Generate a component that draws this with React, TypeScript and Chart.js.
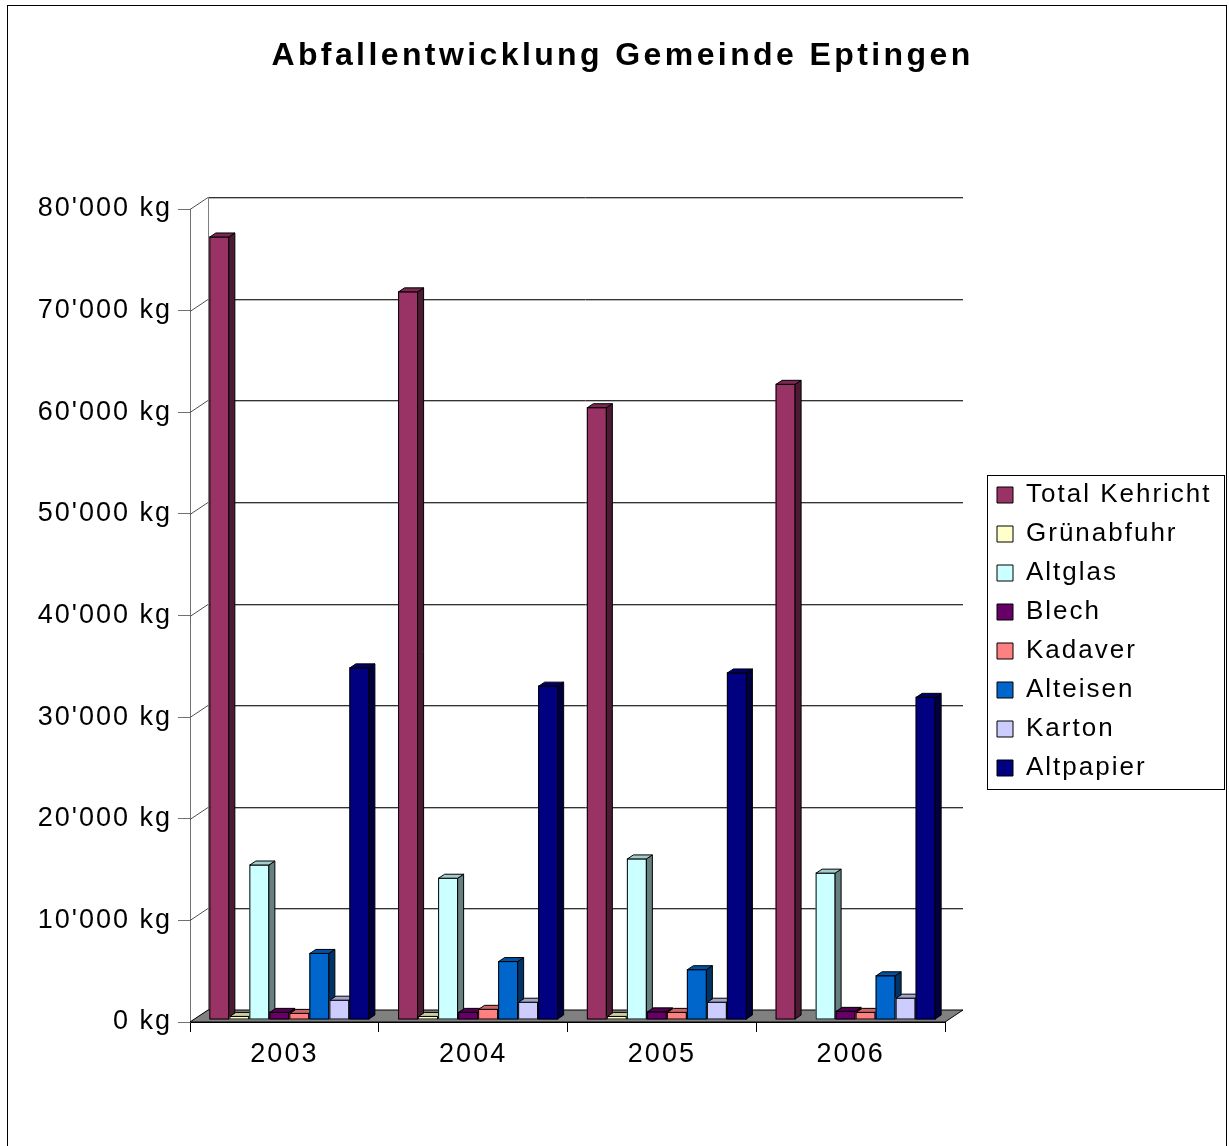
import React, { useEffect, useRef } from 'react';
import { Chart, registerables } from 'chart.js';

Chart.register(...registerables);

const chartTitle = 'Abfallentwicklung Gemeinde Eptingen';
const years = ['2003', '2004', '2005', '2006'];
const seriesNames = ['Total Kehricht', 'Grünabfuhr', 'Altglas', 'Blech', 'Kadaver', 'Alteisen', 'Karton', 'Altpapier'];
const seriesColors = ['#993366', '#FFFFCC', '#CCFFFF', '#660066', '#FF8080', '#0066CC', '#CCCCFF', '#000080'];

const totalKehricht = [77100, 71700, 60300, 62600];
const gruenabfuhr = [400, 400, 400, 0];
const altglas = [15300, 14000, 15900, 14500];
const blech = [800, 800, 850, 900];
const kadaver = [700, 1100, 800, 800];
const alteisen = [6600, 5800, 5000, 4400];
const karton = [2000, 1800, 1800, 2200];
const altpapier = [34700, 32900, 34200, 31800];

const seriesValues = [totalKehricht, gruenabfuhr, altglas, blech, kadaver, alteisen, karton, altpapier];

const yTickLabels = ['0 kg', "10'000 kg", "20'000 kg", "30'000 kg", "40'000 kg", "50'000 kg", "60'000 kg", "70'000 kg", "80'000 kg"];

const FONT = "'Liberation Sans', Arial, sans-serif";
const WALL_DX = 18;
const WALL_DY = 12;
const BAR_DX = 6;
const BAR_DY = 4;
// bars stand a little way into the depth of the 3D floor
const BAR_DEPTH_X = 5;
const BAR_DEPTH_Y = -2;

function shade(hex: string, f: number): string {
  const n = parseInt(hex.slice(1), 16);
  const r = (n >> 16) & 255;
  const g = (n >> 8) & 255;
  const b = n & 255;
  return `rgb(${Math.round(r * f)},${Math.round(g * f)},${Math.round(b * f)})`;
}

const excelPlugin = {
  id: 'excel3d',
  afterInit(chart: any) {
    const tb = chart.titleBlock;
    if (tb && !tb.__patched) {
      const orig = tb.draw;
      tb.draw = function (...args: any[]) {
        const ctx = chart.ctx as any;
        const prev = ctx.letterSpacing;
        ctx.letterSpacing = '3.4px';
        orig.apply(this, args);
        ctx.letterSpacing = prev;
      };
      tb.__patched = true;
    }
  },
  beforeUpdate(chart: any) {
    (chart.ctx as any).letterSpacing = '2px';
  },
  afterLayout(chart: any) {
    const lg = chart.legend;
    if (!lg) return;
    const ca = chart.chartArea;
    const w = lg.width;
    const h = lg.height;
    lg.left = ca.right + 39;
    lg.top = ca.top + 260;
    lg.right = lg.left + w + 20;
    lg.bottom = lg.top + h;
  },
  beforeDraw(chart: any) {
    (chart.ctx as any).letterSpacing = '2px';
  },
  beforeDatasetsDraw(chart: any) {
    const { ctx, chartArea: ca, scales } = chart;
    const ys = scales.y;
    ctx.save();
    ctx.lineWidth = 1;
    ys.ticks.forEach((t: any) => {
      const py = Math.round(ys.getPixelForValue(t.value)) + 0.5;
      ctx.strokeStyle = '#505050';
      ctx.beginPath();
      ctx.moveTo(ca.left, py);
      ctx.lineTo(ca.left + WALL_DX, py - WALL_DY);
      ctx.stroke();
      if (t.value !== 0) {
        ctx.strokeStyle = '#b8b8b8';
        ctx.beginPath();
        ctx.moveTo(ca.left + WALL_DX, py - WALL_DY + 1);
        ctx.lineTo(ca.right + WALL_DX, py - WALL_DY + 1);
        ctx.stroke();
        ctx.strokeStyle = '#333333';
        ctx.beginPath();
        ctx.moveTo(ca.left + WALL_DX, py - WALL_DY);
        ctx.lineTo(ca.right + WALL_DX, py - WALL_DY);
        ctx.stroke();
      }
    });
    ctx.strokeStyle = '#808080';
    ctx.beginPath();
    ctx.moveTo(Math.round(ca.left + WALL_DX) + 0.5, ca.top - WALL_DY);
    ctx.lineTo(Math.round(ca.left + WALL_DX) + 0.5, ca.bottom - WALL_DY);
    ctx.stroke();
    // floor
    ctx.fillStyle = '#808080';
    ctx.strokeStyle = '#000000';
    ctx.beginPath();
    ctx.moveTo(ca.left, ca.bottom);
    ctx.lineTo(ca.right, ca.bottom);
    ctx.lineTo(ca.right + WALL_DX, ca.bottom - WALL_DY);
    ctx.lineTo(ca.left + WALL_DX, ca.bottom - WALL_DY);
    ctx.closePath();
    ctx.fill();
    ctx.stroke();
    ctx.restore();
  },
  beforeDatasetDraw() {
    // bars are painted as 3D columns in afterDatasetsDraw
    return false;
  },
  afterDatasetsDraw(chart: any) {
    const { ctx } = chart;
    ctx.save();
    ctx.lineWidth = 1;
    ctx.strokeStyle = '#000000';
    ctx.lineJoin = 'miter';
    const nCat = chart.data.labels.length;
    const nSet = chart.data.datasets.length;
    for (let j = 0; j < nCat; j++) {
      for (let i = 0; i < nSet; i++) {
        const meta = chart.getDatasetMeta(i);
        const el: any = meta.data[j];
        if (!el) continue;
        const color = seriesColors[i];
        const L = el.x - el.width / 2 + BAR_DEPTH_X;
        const R = el.x + el.width / 2 + BAR_DEPTH_X;
        const T = Math.min(el.y, el.base) + BAR_DEPTH_Y;
        const B = Math.max(el.y, el.base) + BAR_DEPTH_Y;
        if (B - T < 0.5) continue;
        // front
        ctx.fillStyle = color;
        ctx.fillRect(L, T, R - L, B - T);
        ctx.strokeRect(L + 0.5, T + 0.5, R - L - 1, B - T - 1);
        // side
        ctx.fillStyle = shade(color, 0.5);
        ctx.beginPath();
        ctx.moveTo(R - 0.5, T + 0.5);
        ctx.lineTo(R - 0.5 + BAR_DX, T + 0.5 - BAR_DY);
        ctx.lineTo(R - 0.5 + BAR_DX, B - 0.5 - BAR_DY);
        ctx.lineTo(R - 0.5, B - 0.5);
        ctx.closePath();
        ctx.fill();
        ctx.stroke();
        // top
        ctx.fillStyle = shade(color, 0.8);
        ctx.beginPath();
        ctx.moveTo(L + 0.5, T + 0.5);
        ctx.lineTo(L + 0.5 + BAR_DX, T + 0.5 - BAR_DY);
        ctx.lineTo(R - 0.5 + BAR_DX, T + 0.5 - BAR_DY);
        ctx.lineTo(R - 0.5, T + 0.5);
        ctx.closePath();
        ctx.fill();
        ctx.stroke();
      }
    }
    ctx.restore();
  },
  afterDraw(chart: any) {
    const { ctx } = chart;
    ctx.save();
    ctx.lineWidth = 1;
    ctx.strokeStyle = '#000000';
    const lg = chart.legend;
    if (lg && lg.legendHitBoxes && lg.legendHitBoxes.length) {
      const hb = lg.legendHitBoxes;
      const l = Math.min(...hb.map((h: any) => h.left)) - 10;
      const t = hb[0].top - 7;
      const r = Math.max(...hb.map((h: any) => h.left + h.width)) + 12;
      const last = hb[hb.length - 1];
      const b = last.top + last.height + 8;
      ctx.strokeRect(Math.round(l) + 0.5, Math.round(t) + 0.5, Math.round(r - l), Math.round(b - t));
    }
    // outer chart border
    ctx.strokeRect(7.5, 5.5, chart.width - 10, chart.height + 20);
    ctx.restore();
  },
};

export default function App() {
  const ref = useRef<HTMLCanvasElement>(null);

  useEffect(() => {
    const canvas = ref.current;
    if (!canvas) return;
    const chart = new Chart(canvas, {
      type: 'bar',
      data: {
        labels: years,
        datasets: seriesNames.map((name, i) => ({
          label: name,
          data: seriesValues[i],
          backgroundColor: seriesColors[i],
          borderColor: '#000000',
          borderWidth: 1,
          barPercentage: 1,
          categoryPercentage: 0.848,
        })),
      },
      options: {
        responsive: false,
        animation: false,
        events: [],
        layout: { padding: { left: 16, right: 0, top: 0, bottom: 0 } },
        plugins: {
          title: {
            display: true,
            text: chartTitle,
            color: '#000000',
            font: { family: FONT, size: 32, weight: 'bold' },
            padding: { top: 37, bottom: 133.6 },
          },
          legend: {
            display: true,
            position: 'chartArea',
            align: 'start',
            labels: {
              boxWidth: 16,
              boxHeight: 16,
              padding: 13,
              color: '#000000',
              font: { family: FONT, size: 26 },
            },
          },
          tooltip: { enabled: false },
        },
        scales: {
          x: {
            grid: { offset: true, drawOnChartArea: false, drawTicks: true, tickLength: 10, color: '#000000' },
            border: { display: true, color: '#000000' },
            ticks: { color: '#000000', padding: 6, font: { family: FONT, size: 27 } },
            afterFit: (s: any) => { s.height = 124; },
          },
          y: {
            min: 0,
            max: 80000,
            grid: { drawOnChartArea: false, drawTicks: true, tickLength: 12, color: '#707070' },
            border: { display: true, color: '#707070' },
            ticks: {
              stepSize: 10000,
              color: '#000000',
              padding: 6,
              font: { family: FONT, size: 27 },
              callback: (_v: any, idx: number) => yTickLabels[idx],
            },
            afterFit: (s: any) => { s.width = 174; },
          },
          yR: {
            type: 'linear',
            position: 'right',
            display: true,
            grid: { display: false, drawTicks: false },
            border: { display: false },
            ticks: { display: false },
            afterFit: (s: any) => { s.width = 284; },
          },
        },
      } as any,
      plugins: [excelPlugin],
    });
    return () => chart.destroy();
  }, []);

  return (
    <div style={{ position: 'absolute', left: 0, top: 0, width: 1229, height: 1146, background: '#ffffff' }}>
      <canvas ref={ref} width={1229} height={1146} style={{ display: 'block', width: 1229, height: 1146 }} />
    </div>
  );
}
